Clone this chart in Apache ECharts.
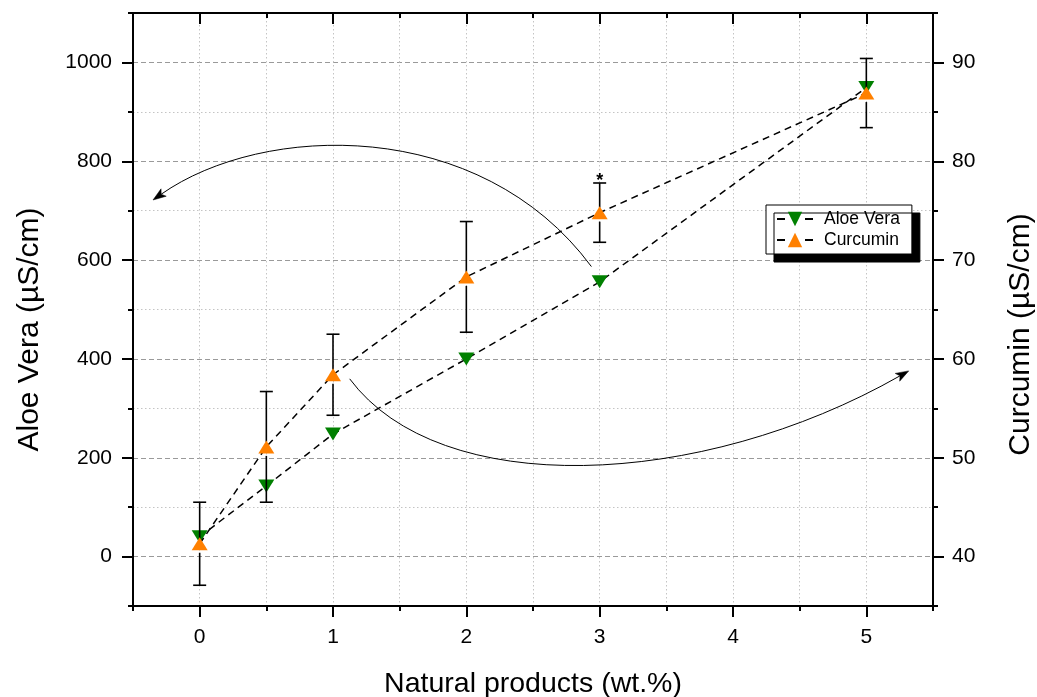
<!DOCTYPE html>
<html><head><meta charset="utf-8">
<script src="https://cdn.jsdelivr.net/npm/echarts@6/dist/echarts.min.js"></script>
<style>html,body{margin:0;padding:0;background:#fff}#chart{width:1037px;height:697px}</style>
</head><body><div id="chart"></div>
<script>
// ---- data ----
const xValues = [0, 0.5, 1, 2, 3, 5];
const aloeVera = [40, 143, 248, 400, 556, 949];
const curcumin = [41.3, 51.1, 58.4, 68.3, 74.8, 86.9];
const curcuminErr = [4.2, 5.6, 4.1, 5.6, 3.0, 3.5];
const significance = ['', '', '', '', '*', ''];
const xMajorTicks = [0, 1, 2, 3, 4, 5];
const leftMajorTicks = [0, 200, 400, 600, 800, 1000];
const leftMinorTicks = [-100, 100, 300, 500, 700, 900, 1100];
const rightMajorTicks = [40, 50, 60, 70, 80, 90];
const seriesNames = ['Aloe Vera', 'Curcumin'];
// annotation arrows: cubic curves in data coords (x, left axis): start, control1, control2, tip
const arrowPaths = [
  [[2.938, 586.9], [2.10, 891.9], [0.4725, 877.7], [-0.350, 721.6]],
  [[1.125, 359.7], [1.80, 114.8], [3.75, 135.0], [5.318, 375.8]]
];

const FONT = '"Liberation Sans", Arial, sans-serif';
const black = '#000';

const chart = echarts.init(document.getElementById('chart'), null, { renderer: 'canvas' });

function majorX(pos, extra) {
  return Object.assign({
    type: 'value', min: -0.5, max: 5.5, position: pos,
    axisLine: { show: true, onZero: false, lineStyle: { color: black, width: 2 } },
    axisTick: { show: true, customValues: xMajorTicks, length: 11, inside: pos === 'top', lineStyle: { color: black, width: 2 } },
    axisLabel: { show: false },
    splitLine: { show: false }
  }, extra || {});
}
function minorX(pos, extra) {
  return Object.assign({
    type: 'value', min: -0.5, max: 5.5, interval: 0.5, position: pos,
    axisLine: { show: false, onZero: false },
    axisTick: { show: true, length: 5, inside: pos === 'top', lineStyle: { color: black, width: 2 } },
    axisLabel: { show: false },
    splitLine: { show: false }
  }, extra || {});
}
const plainNum = v => String(v);

const option = {
  backgroundColor: '#fff',
  animation: false,
  textStyle: { fontFamily: FONT },
  grid: { left: 133, right: 104, top: 13, bottom: 91, containLabel: false, outerBoundsMode: 'none' },
  legend: {
    data: seriesNames,
    orient: 'vertical',
    left: 766, top: 205,
    backgroundColor: '#fff',
    borderColor: '#000', borderWidth: 1,
    shadowColor: '#000', shadowOffsetX: 8, shadowOffsetY: 8, shadowBlur: 0,
    padding: [5, 12, 5, 10],
    itemWidth: 36, itemHeight: 18, itemGap: 3,
    lineStyle: { type: [8, 20] },
    textStyle: { fontSize: 17.5, color: black, fontFamily: FONT, padding: [0, 0, 0, 6] },
    selectedMode: false
  },
  xAxis: [
    majorX('bottom', {
      axisLabel: { show: true, customValues: xMajorTicks, formatter: plainNum, fontSize: 21, color: black, margin: 21, fontFamily: FONT },
      name: 'Natural products (wt.%)', nameLocation: 'middle', nameGap: 64,
      nameTextStyle: { fontSize: 28.5, color: black, fontFamily: FONT }
    }),
    minorX('bottom', { splitLine: { show: true, lineStyle: { color: '#c4c4c4', width: 1, type: [1.5, 2.5] } } }),
    majorX('top'),
    minorX('top')
  ],
  yAxis: [
    {
      type: 'value', min: -100, max: 1100, position: 'left',
      axisLine: { show: true, onZero: false, lineStyle: { color: black, width: 2 } },
      axisTick: { show: true, customValues: leftMajorTicks, length: 11, lineStyle: { color: black, width: 2 } },
      axisLabel: { show: true, customValues: leftMajorTicks, formatter: plainNum, fontSize: 21, color: black, margin: 21, fontFamily: FONT },
      splitLine: { show: true, lineStyle: { color: '#9a9a9a', width: 1, type: [5, 3] } },
      name: 'Aloe Vera (µS/cm)', nameLocation: 'middle', nameGap: 88,
      nameTextStyle: { fontSize: 30, color: black, fontFamily: FONT, padding: [0, 40, 0, 0] }
    },
    {
      type: 'value', min: -100, max: 1100, position: 'left',
      axisLine: { show: false, onZero: false },
      axisTick: { show: true, customValues: leftMinorTicks, length: 5, lineStyle: { color: black, width: 2 } },
      axisLabel: { show: false },
      splitLine: { show: true, lineStyle: { color: '#c4c4c4', width: 1, type: [1.5, 2.5] } }
    },
    {
      type: 'value', min: 35, max: 95, position: 'right',
      axisLine: { show: true, onZero: false, lineStyle: { color: black, width: 2 } },
      axisTick: { show: true, customValues: rightMajorTicks, length: 11, lineStyle: { color: black, width: 2 } },
      axisLabel: { show: true, customValues: rightMajorTicks, formatter: plainNum, fontSize: 21, color: black, margin: 19, fontFamily: FONT },
      splitLine: { show: false },
      name: 'Curcumin (µS/cm)', nameLocation: 'middle', nameGap: 73,
      nameTextStyle: { fontSize: 30, color: black, fontFamily: FONT, padding: [0, 50, 0, 0] }
    },
    {
      type: 'value', min: 35, max: 95, interval: 5, position: 'right',
      axisLine: { show: false, onZero: false },
      axisTick: { show: true, length: 5, lineStyle: { color: black, width: 2 } },
      axisLabel: { show: false },
      splitLine: { show: false }
    }
  ],
  series: [
    {
      type: 'custom', xAxisIndex: 0, yAxisIndex: 0, z: 1, silent: true,
      data: arrowPaths.map((a, i) => [a[3][0], a[3][1], i]),
      renderItem: function (params, api) {
        const pts = arrowPaths[params.dataIndex].map(p => api.coord(p));
        const [p0, p1, p2, p3] = pts;
        let dx = p3[0] - p2[0], dy = p3[1] - p2[1];
        const len = Math.hypot(dx, dy) || 1; dx /= len; dy /= len;
        const nx = -dy, ny = dx;
        const L = 13, W = 4.5, N = 10;
        const base = [p3[0] - L * dx, p3[1] - L * dy];
        const notch = [p3[0] - N * dx, p3[1] - N * dy];
        return {
          type: 'group',
          children: [
            { type: 'bezierCurve', shape: { x1: p0[0], y1: p0[1], cpx1: p1[0], cpy1: p1[1], cpx2: p2[0], cpy2: p2[1], x2: notch[0], y2: notch[1] },
              style: { stroke: black, lineWidth: 1, fill: null } },
            { type: 'polygon', shape: { points: [p3, [base[0] + W * nx, base[1] + W * ny], notch, [base[0] - W * nx, base[1] - W * ny]] },
              style: { fill: black, stroke: black, lineWidth: 0.5 } }
          ]
        };
      }
    },
    {
      name: seriesNames[0], type: 'line', xAxisIndex: 0, yAxisIndex: 0, z: 2,
      data: xValues.map((x, i) => [x, aloeVera[i]]),
      symbol: 'triangle', symbolSize: [16, 13], symbolRotate: 180, showSymbol: true,
      itemStyle: { color: '#008000' },
      lineStyle: { color: black, width: 1.5, type: [7, 5] }
    },
    {
      type: 'custom', xAxisIndex: 0, yAxisIndex: 2, z: 3, silent: true,
      data: xValues.map((x, i) => [x, curcumin[i], curcuminErr[i]]),
      renderItem: function (params, api) {
        const x = api.value(0), y = api.value(1), e = api.value(2);
        const c = api.coord([x, y]);
        const hi = api.coord([x, y + e]);
        const lo = api.coord([x, y - e]);
        const st = { stroke: black, lineWidth: 1.6 };
        const cap = 6.5;
        const children = [
          { type: 'line', shape: { x1: c[0], y1: hi[1], x2: c[0], y2: c[1] - 5 }, style: st },
          { type: 'line', shape: { x1: c[0], y1: c[1] + 9, x2: c[0], y2: lo[1] }, style: st },
          { type: 'line', shape: { x1: c[0] - cap, y1: hi[1], x2: c[0] + cap, y2: hi[1] }, style: st },
          { type: 'line', shape: { x1: c[0] - cap, y1: lo[1], x2: c[0] + cap, y2: lo[1] }, style: st }
        ];
        const s = significance[params.dataIndex];
        if (s) {
          children.push({ type: 'text', style: { text: s, x: c[0], y: hi[1] - 2, align: 'center', verticalAlign: 'middle', fontSize: 18, fontWeight: 'bold', fill: black, fontFamily: FONT } });
        }
        return { type: 'group', children: children };
      }
    },
    {
      name: seriesNames[1], type: 'line', xAxisIndex: 0, yAxisIndex: 2, z: 4,
      data: xValues.map((x, i) => [x, curcumin[i]]),
      symbol: 'triangle', symbolSize: [16, 13], showSymbol: true,
      itemStyle: { color: '#FF8000' },
      lineStyle: { color: black, width: 1.5, type: [7, 5] }
    }
  ]
};
chart.setOption(option);
</script>
</body></html>
